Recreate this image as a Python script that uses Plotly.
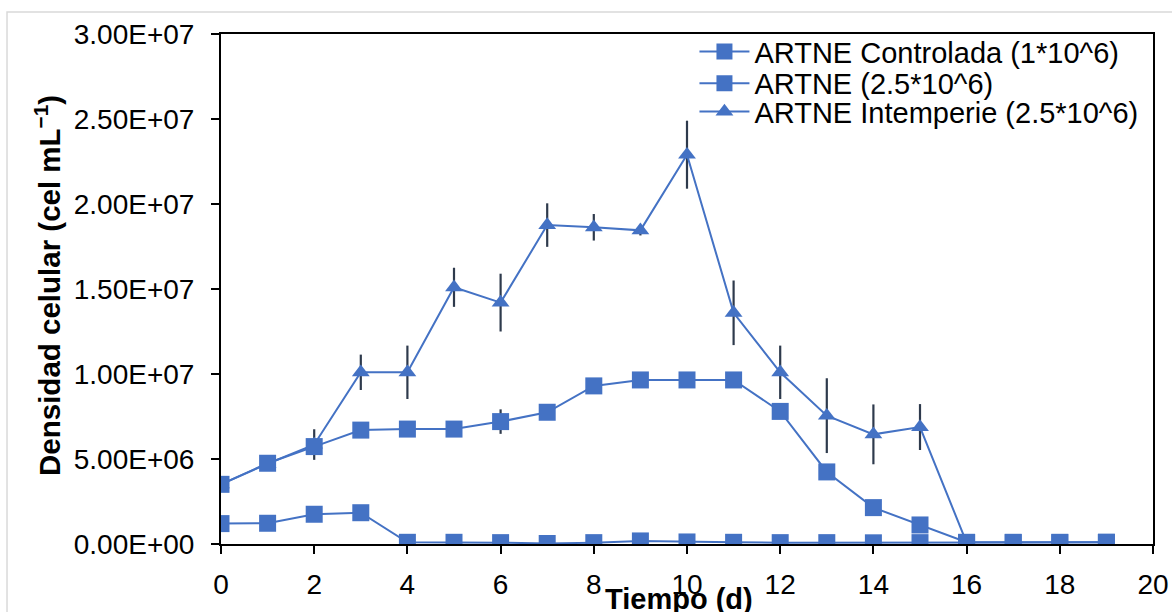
import plotly.graph_objects as go

days = list(range(20))
controlada = [1.20e6, 1.22e6, 1.75e6, 1.84e6, 0.10e6, 0.10e6, 0.08e6, 0.03e6, 0.08e6, 0.18e6,
              0.12e6, 0.10e6, 0.08e6, 0.08e6, 0.07e6, 0.08e6, 0.08e6, 0.08e6, 0.08e6, 0.10e6]
artne = [3.51e6, 4.75e6, 5.73e6, 6.70e6, 6.76e6, 6.76e6, 7.20e6, 7.75e6, 9.30e6, 9.65e6,
         9.65e6, 9.65e6, 7.80e6, 4.24e6, 2.14e6, 1.12e6, 0.10e6, 0.10e6, 0.10e6, 0.10e6]
artne_err = [0, 0, 0, 0, 0, 0, 0.72e6, 0, 0, 0, 0, 0, 0, 0, 0, 0, 0, 0, 0, 0]
days_int = list(range(17))
intemperie = [3.51e6, 4.72e6, 5.85e6, 10.1e6, 10.1e6, 15.1e6, 14.2e6, 18.76e6, 18.63e6, 18.45e6,
              22.9e6, 13.6e6, 10.1e6, 7.55e6, 6.45e6, 6.88e6, 0.08e6]
intemperie_err = [0, 0, 0.9e6, 1.04e6, 1.57e6, 1.15e6, 1.7e6, 1.28e6, 0.78e6, 0.3e6,
                  2.0e6, 1.9e6, 1.57e6, 2.2e6, 1.76e6, 1.35e6, 0]

y_tickvals = [0, 5e6, 1e7, 1.5e7, 2e7, 2.5e7, 3e7]
y_ticktext = ["0.00E+00", "5.00E+06", "1.00E+07", "1.50E+07", "2.00E+07", "2.50E+07", "3.00E+07"]
x_tickvals = [0, 2, 4, 6, 8, 10, 12, 14, 16, 18, 20]

BLUE = "#4472C4"
ERR = "#2E3A4C"
FONT = "Liberation Sans, Arial, sans-serif"

fig = go.Figure()
fig.add_trace(go.Scatter(
    x=days_int, y=intemperie, mode="lines+markers", name="ARTNE Intemperie (2.5*10^6)",
    line=dict(color=BLUE, width=2),
    marker=dict(symbol="triangle-up", size=15.5, color=BLUE),
    error_y=dict(type="data", array=intemperie_err, color=ERR, thickness=2.2, width=0),
    legend="legend3",
))
fig.add_trace(go.Scatter(
    x=days, y=controlada, mode="lines+markers", name="ARTNE Controlada (1*10^6)",
    line=dict(color=BLUE, width=2),
    marker=dict(symbol="square", size=17, color=BLUE),
    legend="legend",
))
fig.add_trace(go.Scatter(
    x=days, y=artne, mode="lines+markers", name="ARTNE (2.5*10^6)",
    line=dict(color=BLUE, width=2),
    marker=dict(symbol="square", size=17, color=BLUE),
    error_y=dict(type="data", array=artne_err, color=ERR, thickness=2.2, width=0),
    legend="legend2",
))

leg_common = dict(x=0.508, xanchor="left", yanchor="middle", bgcolor="rgba(0,0,0,0)",
                  font=dict(size=29), itemwidth=50)

fig.update_layout(
    width=1172, height=612,
    margin=dict(l=221, r=19, t=34, b=68, autoexpand=False),
    paper_bgcolor="white", plot_bgcolor="white",
    font=dict(family=FONT, size=28, color="black"),
    showlegend=True,
    legend=dict(y=0.9653, **leg_common),
    legend2=dict(y=0.9033, **leg_common),
    legend3=dict(y=0.8476, **leg_common),
    xaxis=dict(range=[0, 20], tickvals=x_tickvals, showgrid=False, zeroline=False,
               showline=True, linecolor="black", linewidth=2, mirror=True,
               ticks="outside", ticklen=8, tickcolor="black", tickwidth=1.5,
               ticklabelstandoff=6, tickfont=dict(size=28), automargin=False),
    yaxis=dict(range=[0, 3e7], tickvals=y_tickvals, ticktext=y_ticktext, showgrid=False,
               zeroline=False, showline=True, linecolor="black", linewidth=2, mirror=True,
               ticks="outside", ticklen=8, tickcolor="black", tickwidth=1.5,
               ticklabelstandoff=11, tickfont=dict(size=28), automargin=False),
    annotations=[
        dict(text="<b>Tiempo (d)</b>", xref="paper", yref="paper", x=0.491, y=-0.108,
             xanchor="center", yanchor="middle", showarrow=False, font=dict(size=29)),
        dict(text="<b>Densidad celular (cel mL<sup>−1</sup>)</b>", xref="paper", yref="paper",
             x=-0.1856, y=0.506, textangle=-90, xanchor="center", yanchor="middle",
             showarrow=False, font=dict(size=29.5)),
    ],
    shapes=[
        dict(type="rect", xref="paper", yref="paper", x0=-0.2296, y0=-0.2, x1=1.05, y1=1.0431,
             line=dict(color="#D9D9D9", width=1.5), fillcolor="rgba(0,0,0,0)", layer="below"),
    ],
)

fig.write_html("out.html")
